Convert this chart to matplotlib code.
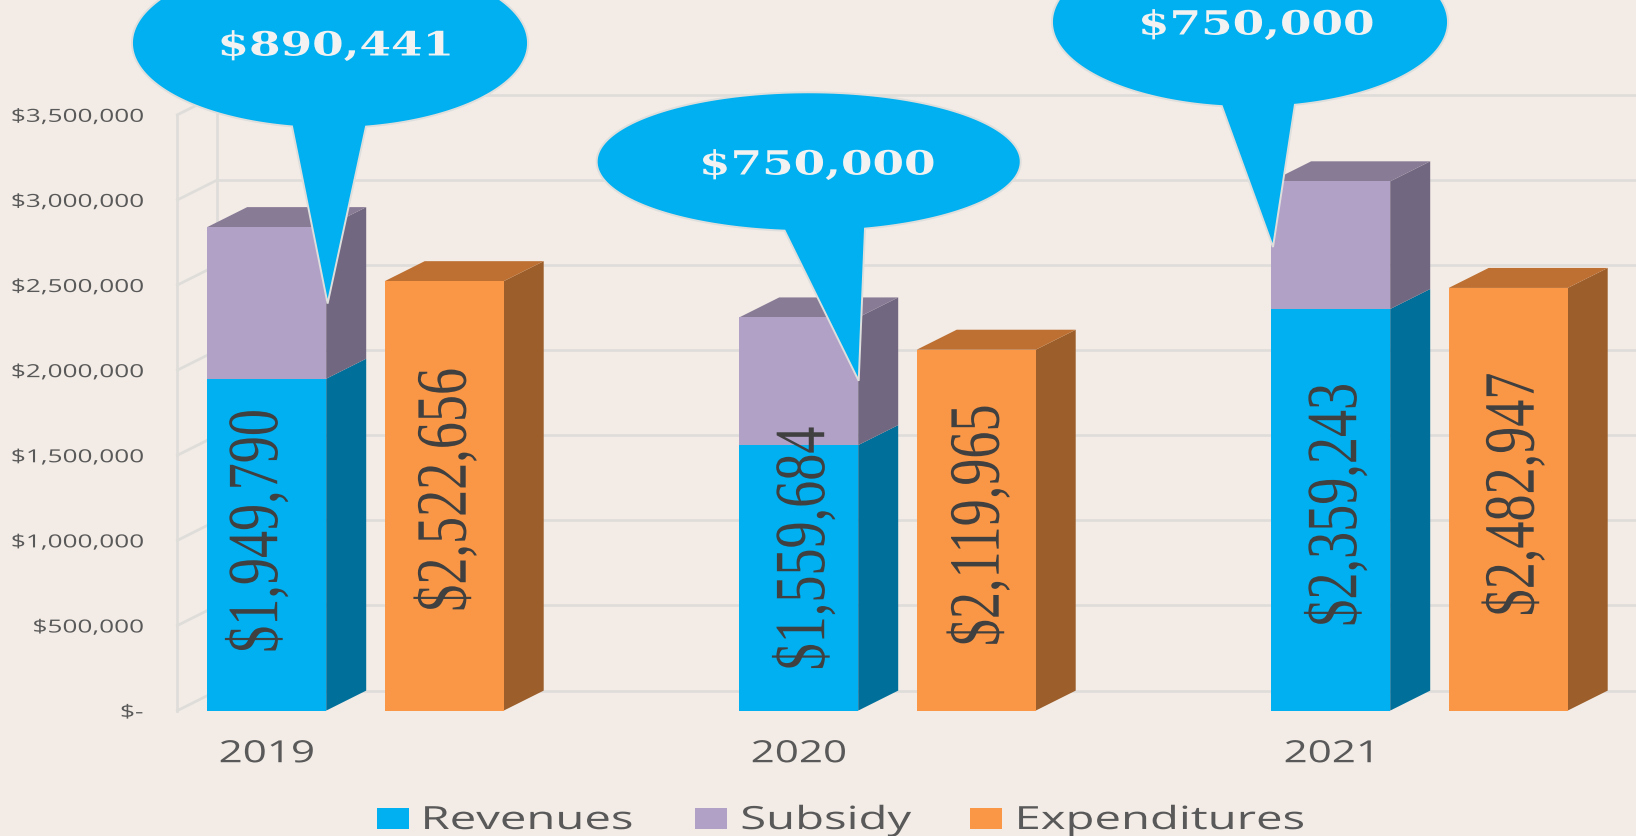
import numpy as np
import matplotlib as mpl
mpl.use("Agg")
import matplotlib.pyplot as plt
from matplotlib.patches import Polygon, Rectangle
from matplotlib.patheffects import AbstractPathEffect
from matplotlib.transforms import Affine2D

# --- data ---
YEARS = ["2019", "2020", "2021"]
REVENUES = [1949790, 1559684, 2359243]
SUBSIDY = [890441, 750000, 750000]
EXPENDITURES = [2522656, 2119965, 2482947]
Y_TICKS = [0, 500000, 1000000, 1500000, 2000000, 2500000, 3000000, 3500000]

# --- colours ---
BG = "#F3ECE6"
GRID = "#DFDDDA"
TXT = "#595959"
LABEL = "#404040"
REV = ("#00B0F0", "#006F9A")
SUB = ("#B2A1C7", "#716780", "#887B96")
EXP = ("#FA9746", "#9C5E2A", "#BD7032")
BUBBLE = "#00B0F0"

W, H = 1636, 836


class Stretch(AbstractPathEffect):
    # reference text is squashed/stretched, matplotlib has no font-stretch
    def __init__(self, sx, anchor=0.5):
        super().__init__()
        self.sx = sx
        self.anchor = anchor

    def draw_path(self, renderer, gc, tpath, affine, rgbFace=None):
        ext = tpath.get_extents()
        c = ext.x0 + self.anchor * ext.width
        tr = Affine2D().translate(-c, 0).scale(self.sx, 1).translate(c, 0)
        renderer.draw_path(gc, tpath, tr + affine, rgbFace)


fig = plt.figure(figsize=(W / 100, H / 100), dpi=100, facecolor=BG)

# main axes: spans from the left wall to the right edge of the picture
x_left, y_zero, y_top = 177.4, 710.6, 114.8
unit = 532.0
ax = fig.add_axes([x_left / W, 1 - y_zero / H, 1 - x_left / W, (y_zero - y_top) / H])
ax.set_facecolor("none")
ax.set_xlim(-(266.7 - x_left) / unit, (W - 266.7) / unit)
ax.set_ylim(0, 3500000)
for s in ax.spines.values():
    s.set_visible(False)

bar_w = 119 / unit
exp_off = 177.5 / unit
dx = 40 / unit
dy = 20 * 3500000 / (y_zero - y_top)
xmin = ax.get_xlim()[0]
xmax = ax.get_xlim()[1]

# --- 3D walls and grid ---
grid_lw = 2.0
for v in Y_TICKS:
    ax.plot([xmin, xmin + dx], [v, v + dy], color=GRID, lw=grid_lw, clip_on=False, zorder=1)
    ax.plot([xmin + dx, xmax], [v + dy, v + dy], color=GRID, lw=grid_lw, clip_on=False, zorder=1)
ax.plot([xmin, xmin], [0, Y_TICKS[-1]], color=GRID, lw=grid_lw, clip_on=False, zorder=1)
ax.plot([xmin + dx, xmin + dx], [dy, Y_TICKS[-1] + dy], color=GRID, lw=grid_lw, clip_on=False, zorder=1)


def side(x, lo, hi, color):
    r = x + bar_w / 2
    ax.add_patch(Polygon([(r, lo), (r + dx, lo + dy), (r + dx, hi + dy), (r, hi)],
                         fc=color, ec="none", zorder=3, clip_on=False))


def top(x, val, color):
    l, r = x - bar_w / 2, x + bar_w / 2
    ax.add_patch(Polygon([(l, val), (l + dx, val + dy), (r + dx, val + dy), (r, val)],
                         fc=color, ec="none", zorder=3, clip_on=False))


xs = np.arange(len(YEARS))
rev = np.array(REVENUES)
sub = np.array(SUBSIDY)
exp = np.array(EXPENDITURES)
ax.bar(xs, rev, bar_w, color=REV[0], zorder=4)
ax.bar(xs, sub, bar_w, bottom=rev, color=SUB[0], zorder=4)
ax.bar(xs + exp_off, exp, bar_w, color=EXP[0], zorder=4, clip_on=False)
for i, x in enumerate(xs):
    side(x, 0, rev[i], REV[1])
    side(x, rev[i], rev[i] + sub[i], SUB[1])
    top(x, rev[i] + sub[i], SUB[2])
    side(x + exp_off, 0, exp[i], EXP[1])
    top(x + exp_off, exp[i], EXP[2])

# --- axis labels ---
ax.set_yticks(Y_TICKS)
ax.set_yticklabels(["$-" if v == 0 else f"${v:,}" for v in Y_TICKS],
                   fontfamily="Open Sans", fontsize=13, color=TXT)
ax.set_xticks(xs)
ax.set_xticklabels(YEARS, fontfamily="Open Sans", fontsize=22, color=TXT)
ax.tick_params(axis="y", length=0, pad=24.7)
ax.tick_params(axis="x", length=0, pad=20.6)
for t in ax.get_yticklabels():
    t.set_path_effects([Stretch(1.45, anchor=1.0)])
for t in ax.get_xticklabels():
    t.set_path_effects([Stretch(1.38)])

# --- value labels running up the bars (offsets in px from bar centre) ---
rev_lab_y = [1057000, 952000, 1210000]
exp_lab_y = [1297000, 1090000, 1270000]
rev_lab_dx = [-7, 8, 8]
exp_lab_dx = [4, 5, 8]
for i, x in enumerate(xs):
    for xx, val, yy, off in [(x, rev[i], rev_lab_y[i], rev_lab_dx[i]),
                             (x + exp_off, exp[i], exp_lab_y[i], exp_lab_dx[i])]:
        t = ax.text(xx + off / unit, yy, f"${val:,}", rotation=90, ha="center", va="center",
                    rotation_mode="anchor", fontfamily="Liberation Serif", fontsize=52,
                    color=LABEL, zorder=6)
        t.set_path_effects([Stretch(0.75)])

# --- overlay in picture pixels for the callouts and legend ---
ov = fig.add_axes([0, 0, 1, 1])
ov.set_xlim(0, W)
ov.set_ylim(H, 0)
ov.axis("off")
ov.set_zorder(5)

# cx, cy, rx, ry, base left, base right, tip x, tip y, text x, text y
BUBBLES = [
    (330, 43, 198, 85, 292, 366, 327.6, 303.6, 336, 46),
    (808.7, 161.7, 212, 69.4, 784.6, 865, 858.7, 380.8, 818, 165),
    (1250, 22, 198, 85, 1221.8, 1294.9, 1273, 247, 1257, 25),
]
for (cx, cy, rx, ry, bl, br, tx, ty, lx, ly), val in zip(BUBBLES, SUBSIDY):
    t_r = np.arccos((br - cx) / rx)
    t_l = np.arccos((bl - cx) / rx)
    t = np.linspace(t_r, t_l - 2 * np.pi, 300)
    pts = np.column_stack([cx + rx * np.cos(t), cy + ry * np.sin(t)])
    pts = np.vstack([pts, [tx, ty]])
    ov.add_patch(Polygon(pts, closed=True, fc=BUBBLE, ec="#DEDEDC", lw=1.4))
    s = ov.text(lx, ly, f"${val:,}", ha="center", va="center", family="DejaVu Serif",
                fontweight="bold", fontsize=24, color="#F2F2F2")
    s.set_path_effects([Stretch(1.36)])

# --- legend ---
legend_items = [("Revenues", REV[0], 376.5, 422), ("Subsidy", SUB[0], 695, 741),
                ("Expenditures", EXP[0], 970, 1016)]
for name, col, px, tx in legend_items:
    ov.add_patch(Rectangle((px, 808), 32, 21, fc=col, ec="none"))
    s = ov.text(tx, 829, name, ha="left", va="baseline", family="Open Sans",
                fontsize=23, color=TXT)
    s.set_path_effects([Stretch(1.48, anchor=0.0)])

fig.savefig("out.png", dpi=100, facecolor=BG)
